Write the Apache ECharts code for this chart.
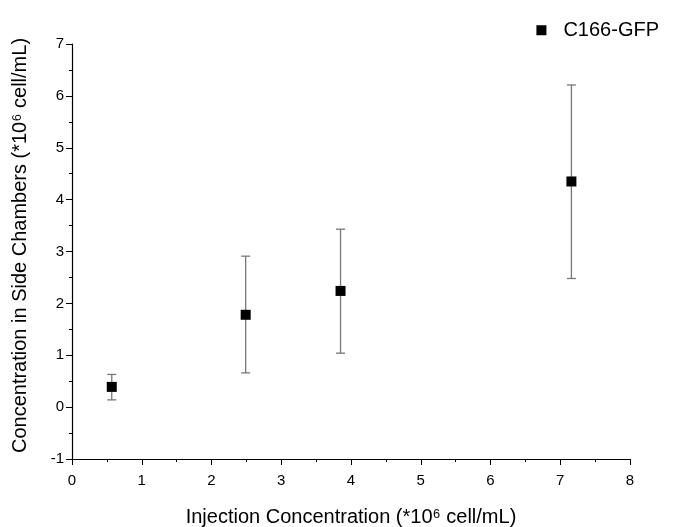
<!DOCTYPE html>
<html>
    <head>
        <title>c166_gfp</title>
        <script src="https://cdn.jsdelivr.net/npm/echarts@6/dist/echarts.min.js"></script>
        <style>
            body { margin: 0; background: #fff; }
        </style>
    </head>
    <body>
        <div id="main" style="width: 683px; height: 527px;"></div>
        <script>
            var injection = [0.57, 2.49, 3.85, 7.16];
            var side_conc = [0.39, 1.78, 2.24, 4.35];
            var err_low = [0.14, 0.66, 1.04, 2.48];
            var err_high = [0.63, 2.91, 3.43, 6.21];
            var series_name = 'C166-GFP';

            var points = injection.map((x, i) => [x, side_conc[i]]);
            var bars = injection.map((x, i) => [x, err_low[i], err_high[i]]);

            var font = 'Liberation Sans, Arial, sans-serif';
            var myChart = echarts.init(document.getElementById('main'));
            var option = {
                backgroundColor: '#fff',
                animation: false,
                grid: { left: 72, right: 53, top: 44, bottom: 68, outerBoundsMode: 'none' },
                legend: {
                    right: 19, top: 8,
                    itemWidth: 10, itemHeight: 10, itemGap: 8,
                    textStyle: { fontFamily: font, fontSize: 20, color: '#000', padding: [0, 0, 0, 12] },
                    data: [{ name: series_name, icon: 'rect' }]
                },
                xAxis: {
                    type: 'value', min: 0, max: 8, interval: 1,
                    name: 'Injection Concentration (*10\u2076 cell/mL)',
                    nameLocation: 'middle', nameGap: 46,
                    nameTextStyle: { fontFamily: font, fontSize: 20, lineHeight: 24, color: '#000' },
                    axisLine: { onZero: false, lineStyle: { color: '#000', width: 1.2 } },
                    axisTick: { length: 6, lineStyle: { color: '#000' } },
                    minorTick: { show: true, splitNumber: 2, length: 3, lineStyle: { color: '#000' } },
                    axisLabel: { fontFamily: font, fontSize: 15, color: '#000', margin: 9 },
                    splitLine: { show: false }
                },
                yAxis: {
                    type: 'value', min: -1, max: 7, interval: 1,
                    name: 'Concentration in Side Chambers (*10\u2076 cell/mL)',
                    nameLocation: 'middle', nameGap: 40, nameRotate: 90,
                    nameTextStyle: { fontFamily: font, fontSize: 20, lineHeight: 24, color: '#000', padding: [0, 0, 0, 12] },
                    axisLine: { show: true, onZero: false, lineStyle: { color: '#000', width: 1.2 } },
                    axisTick: { show: true, length: 6, lineStyle: { color: '#000' } },
                    minorTick: { show: true, splitNumber: 2, length: 3, lineStyle: { color: '#000' } },
                    axisLabel: { fontFamily: font, fontSize: 15, color: '#000', margin: 8 },
                    splitLine: { show: false }
                },
                series: [
                    {
                        type: 'custom',
                        name: 'err',
                        data: bars,
                        z: 1,
                        renderItem: (params, api) => {
                            var lo = api.coord([api.value(0), api.value(1)]);
                            var hi = api.coord([api.value(0), api.value(2)]);
                            var w = 4.5;
                            var style = { stroke: '#777', lineWidth: 1.3 };
                            return {
                                type: 'group',
                                children: [
                                    { type: 'line', shape: { x1: lo[0], y1: lo[1], x2: hi[0], y2: hi[1] }, style: style },
                                    { type: 'line', shape: { x1: lo[0] - w, y1: lo[1], x2: lo[0] + w, y2: lo[1] }, style: style },
                                    { type: 'line', shape: { x1: hi[0] - w, y1: hi[1], x2: hi[0] + w, y2: hi[1] }, style: style }
                                ]
                            };
                        }
                    },
                    {
                        type: 'scatter',
                        name: series_name,
                        data: points,
                        symbol: 'rect',
                        symbolSize: 10,
                        z: 3,
                        itemStyle: { color: '#000', opacity: 1 }
                    }
                ]
            };
            myChart.setOption(option);
        </script>
    </body>
</html>
